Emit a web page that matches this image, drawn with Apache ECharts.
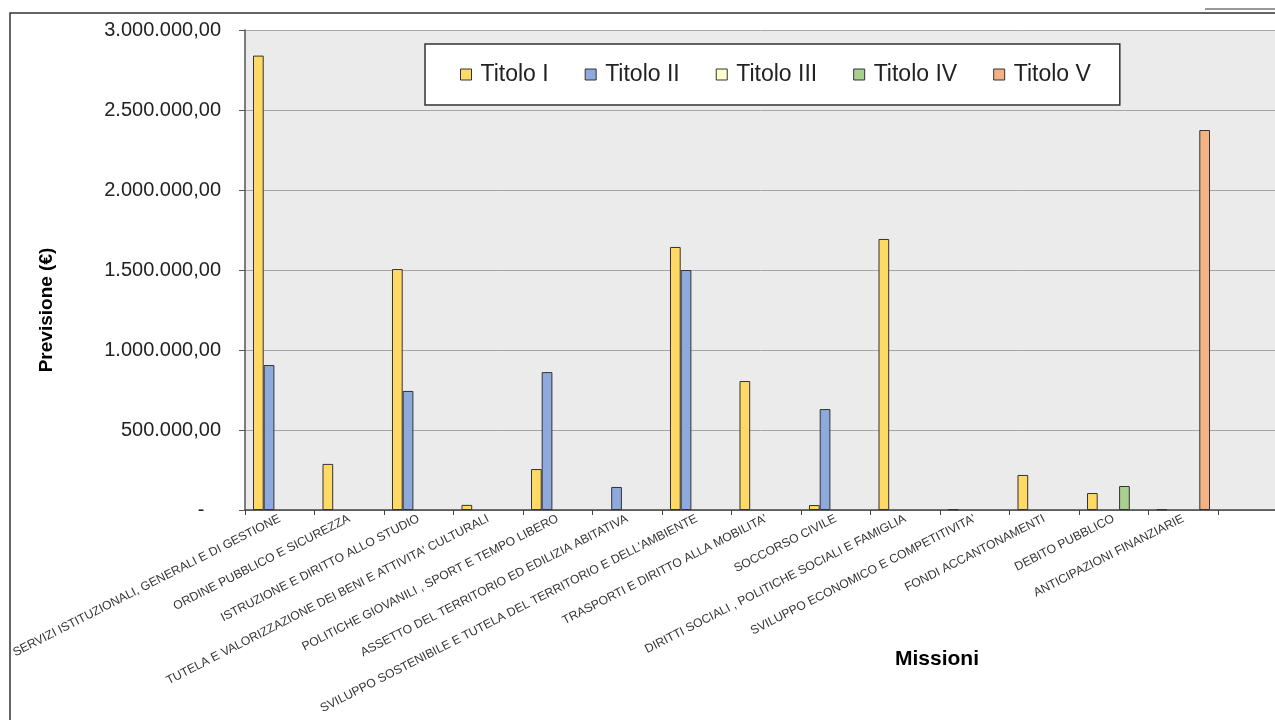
<!DOCTYPE html>
<html>
<head>
<meta charset="utf-8">
<script src="https://cdn.jsdelivr.net/npm/echarts@6/dist/echarts.min.js"></script>
<style>
html,body{margin:0;padding:0;background:#fff;}
#chart{width:1275px;height:720px;}
</style>
</head>
<body>
<div id="chart"></div>
<script>
var categories = [
  'SERVIZI ISTITUZIONALI, GENERALI E DI GESTIONE',
  'ORDINE PUBBLICO E SICUREZZA',
  'ISTRUZIONE E DIRITTO ALLO STUDIO',
  "TUTELA E VALORIZZAZIONE DEI BENI E ATTIVITA' CULTURALI",
  'POLITICHE GIOVANILI , SPORT E TEMPO LIBERO',
  'ASSETTO DEL TERRITORIO ED EDILIZIA ABITATIVA',
  "SVILUPPO SOSTENIBILE E TUTELA DEL TERRITORIO E DELL'AMBIENTE",
  "TRASPORTI E DIRITTO ALLA MOBILITA'",
  'SOCCORSO CIVILE',
  'DIRITTI SOCIALI , POLITICHE SOCIALI E FAMIGLIA',
  "SVILUPPO ECONOMICO E COMPETITIVITA'",
  'FONDI ACCANTONAMENTI',
  'DEBITO PUBBLICO',
  'ANTICIPAZIONI FINANZIARIE'
];
var seriesNames = ['Titolo I', 'Titolo II', 'Titolo III', 'Titolo IV', 'Titolo V'];
var titoloI   = [2840000, 288000, 1506000, 32000, 256000, null, 1644000, 806000, 31000, 1694000, 5000, 219000, 106000, 5000];
var titoloII  = [906000, null, 744000, null, 862000, 144000, 1500000, null, 631000, null, null, null, null, null];
var titoloIII = [null, null, null, null, null, null, null, null, null, null, null, null, null, null];
var titoloIV  = [null, null, null, null, null, null, null, null, null, null, null, null, 150000, null];
var titoloV   = [null, null, null, null, null, null, null, null, null, null, null, null, null, 2375000];
var yTicks = { min: 0, max: 3000000, interval: 500000 };

var colors = ['#FFD966', '#8EA9DB', '#FFFFCC', '#A9D08E', '#F4B183'];
var values = [titoloI, titoloII, titoloIII, titoloIV, titoloV];

function fmt(v) {
  if (v === 0) return '-   ';
  return String(Math.round(v)).replace(/\B(?=(\d{3})+(?!\d))/g, '.') + ',00';
}

var chart = echarts.init(document.getElementById('chart'), null, { renderer: 'canvas' });
var font = 'Liberation Sans, Arial, sans-serif';

var series = seriesNames.map(function (n, i) {
  return {
    name: n,
    type: 'bar',
    data: values[i].concat([null]),
    barGap: '0%',
    barCategoryGap: '23%',
    itemStyle: { color: colors[i], borderColor: '#333333', borderWidth: 1 },
    emphasis: { disabled: true }
  };
});

chart.setOption({
  animation: false,
  backgroundColor: '#ffffff',
  textStyle: { fontFamily: font },
  grid: {
    left: 245, top: 30, width: 1042.5, height: 480,
    show: true, backgroundColor: '#EBEBEB', borderWidth: 0,
    containLabel: false,
    outerBoundsMode: 'none'
  },
  legend: {
    data: seriesNames,
    left: 425, top: 44,
    padding: [19, 29, 19, 35],
    itemGap: 36,
    itemWidth: 11, itemHeight: 11,
    icon: 'rect',
    backgroundColor: '#ffffff',
    borderColor: '#333333', borderWidth: 1.5,
    itemStyle: { borderColor: '#333333', borderWidth: 1 },
    textStyle: { fontSize: 23, color: '#222', fontFamily: font, padding: [0, 0, 0, 4] },
    selectedMode: false
  },
  xAxis: {
    type: 'category',
    data: categories.concat(['']),
    axisLine: { show: true, lineStyle: { color: '#444', width: 1.5 } },
    axisTick: { show: true, length: 5, lineStyle: { color: '#444' } },
    axisLabel: { interval: 0, rotate: 27, fontSize: 12.2, color: '#333', margin: 8, fontFamily: font },
    splitLine: { show: false }
  },
  yAxis: {
    type: 'value',
    min: yTicks.min, max: yTicks.max, interval: yTicks.interval,
    axisLine: { show: true, lineStyle: { color: '#555', width: 1.5 } },
    axisTick: { show: true, length: 6, lineStyle: { color: '#555' } },
    axisLabel: { formatter: fmt, fontSize: 20, color: '#222', margin: 24, fontFamily: font },
    splitLine: { show: true, lineStyle: { color: '#A6A6A6', width: 1 } }
  },
  graphic: [
    { type: 'polyline', shape: { points: [[10, 720], [10, 13], [1275, 13]] }, style: { stroke: '#333', lineWidth: 1.5, fill: null }, silent: true },
    { type: 'line', shape: { x1: 1205, y1: 9, x2: 1275, y2: 9 }, style: { stroke: '#333', lineWidth: 1 }, silent: true },
    { type: 'text', x: 47, y: 310, rotation: Math.PI / 2, style: { text: 'Previsione (€)', font: 'bold 19px Liberation Sans, Arial, sans-serif', fill: '#000', align: 'center', verticalAlign: 'middle' }, silent: true },
    { type: 'text', x: 937, y: 659, style: { text: 'Missioni', font: 'bold 21px Liberation Sans, Arial, sans-serif', fill: '#000', align: 'center', verticalAlign: 'middle' }, silent: true }
  ],
  series: series
});
</script>
</body>
</html>
